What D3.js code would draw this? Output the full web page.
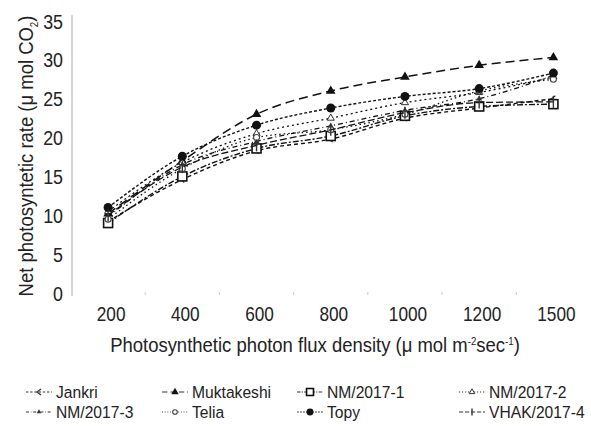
<!DOCTYPE html>
<html>
<head>
<meta charset="utf-8">
<script src="https://cdn.jsdelivr.net/npm/d3@7"></script>
<style>
  body { margin: 0; background: #fff; }
  text { font-family: "Liberation Sans", Arial, sans-serif; fill: #222; }
</style>
</head>
<body>
<svg id="chart" width="591" height="426"></svg>
<script>
// light levels on the x axis
var ppfd = ["200", "400", "600", "800", "1000", "1200", "1500"];
var yTicks = [0, 5, 10, 15, 20, 25, 30, 35];

// net photosynthetic rate per genotype
var jankri     = [9.2, 14.6, 18.3, 19.8, 22.5, 23.8, 25.0];
var muktakeshi = [10.2, 17.0, 23.0, 26.0, 27.8, 29.3, 30.3];
var nm1        = [9.0, 15.0, 18.6, 20.2, 22.8, 24.0, 24.3];
var nm2        = [10.5, 16.8, 20.5, 22.5, 24.5, 25.8, 27.8];
var nm3        = [9.8, 16.5, 19.5, 21.5, 23.5, 25.0, 28.0];
var telia      = [9.5, 16.0, 20.0, 21.0, 23.0, 26.0, 27.5];
var topy       = [11.0, 17.6, 21.6, 23.8, 25.3, 26.3, 28.3];
var vhak       = [10.0, 16.2, 19.0, 21.0, 23.2, 24.5, 24.6];

var seriesNames = ["Jankri", "Muktakeshi", "NM/2017-1", "NM/2017-2", "NM/2017-3", "Telia", "Topy", "VHAK/2017-4"];
var seriesValues = [jankri, muktakeshi, nm1, nm2, nm3, telia, topy, vhak];

// look of each series: dash, marker
var styles = {
  "Jankri":      {dash: "4,3",      marker: "chev",  w: 1.4},
  "Muktakeshi":  {dash: "9,5",      marker: "tri",   w: 1.5},
  "NM/2017-1":   {dash: "6,2,2,2",  marker: "sq",    w: 1.4},
  "NM/2017-2":   {dash: "2,3",      marker: "otri",  w: 1.3},
  "NM/2017-3":   {dash: "5,3,1,3",  marker: "stri",  w: 1.3},
  "Telia":       {dash: "1.5,3",    marker: "ocirc", w: 1.3},
  "Topy":        {dash: "3,2",      marker: "circ",  w: 1.4},
  "VHAK/2017-4": {dash: "7,3",      marker: "bar",   w: 1.3}
};

var svg = d3.select("#chart");

var x = d3.scaleBand().domain(ppfd).range([71, 590.5]);
var y = d3.scaleLinear().domain([0, 35]).range([293, 21]);
var cx = function(c) { return x(c) + x.bandwidth() / 2; };

// condensed-looking text: squeeze horizontally
function label(parent, px, py, sx, anchor, size) {
  return parent.append("text")
    .attr("transform", "translate(" + px + "," + py + ") scale(" + sx + ",1)")
    .attr("text-anchor", anchor)
    .style("font-size", size + "px");
}

// y axis line
svg.append("line")
  .attr("x1", 72).attr("x2", 72).attr("y1", 15).attr("y2", 296)
  .attr("stroke", "#bbb").attr("stroke-width", 1.2);

// y tick labels
yTicks.forEach(function(d) {
  label(svg, 63, y(d) + 7.5, 0.85, "end", 21).text(d);
});

// small tick marks between categories
svg.selectAll("line.xtick")
  .data(ppfd.slice(1)).enter().append("line")
  .attr("class", "xtick")
  .attr("x1", function(d) { return x(d); }).attr("x2", function(d) { return x(d); })
  .attr("y1", 292).attr("y2", 295)
  .attr("stroke", "#ccc");

// x tick labels
ppfd.forEach(function(d) {
  label(svg, cx(d) + 3, 321, 0.82, "middle", 21).text(d);
});

// axis titles
var xt = label(svg, 315, 352, 0.88, "middle", 21);
xt.append("tspan").text("Photosynthetic photon flux density (\u03bc mol m");
xt.append("tspan").attr("dy", -7).style("font-size", "11px").text("-2");
xt.append("tspan").attr("dy", 7).text("sec");
xt.append("tspan").attr("dy", -7).style("font-size", "11px").text("-1");
xt.append("tspan").attr("dy", 7).text(")");

var yt = svg.append("text")
  .attr("transform", "translate(33,156) rotate(-90) scale(0.88,1)")
  .attr("text-anchor", "middle")
  .style("font-size", "21px");
yt.append("tspan").text("Net photosyntetic rate (\u03bc mol CO");
yt.append("tspan").attr("dy", 5).style("font-size", "11px").text("2");
yt.append("tspan").attr("dy", -5).text(")");

// marker drawing
function drawMarker(g, type, px, py, s) {
  s = s || 1;
  if (type == "tri") {
    g.append("path").attr("d", d3.symbol().type(d3.symbolTriangle).size(40 * s)())
      .attr("transform", "translate(" + px + "," + py + ")").attr("fill", "#111");
  } else if (type == "stri") {
    g.append("path").attr("d", d3.symbol().type(d3.symbolTriangle).size(16 * s)())
      .attr("transform", "translate(" + px + "," + py + ")").attr("fill", "#333");
  } else if (type == "otri") {
    g.append("path").attr("d", d3.symbol().type(d3.symbolTriangle).size(22 * s)())
      .attr("transform", "translate(" + px + "," + py + ")").attr("fill", "#fff").attr("stroke", "#333").attr("stroke-width", 1);
  } else if (type == "sq") {
    var h = 4.5 * Math.sqrt(s);
    g.append("rect").attr("x", px - h).attr("y", py - h).attr("width", 2 * h).attr("height", 2 * h)
      .attr("fill", "#fff").attr("stroke", "#111").attr("stroke-width", 1.6);
  } else if (type == "circ") {
    g.append("circle").attr("cx", px).attr("cy", py).attr("r", 4.5 * Math.sqrt(s)).attr("fill", "#111");
  } else if (type == "ocirc") {
    g.append("circle").attr("cx", px).attr("cy", py).attr("r", 3 * Math.sqrt(s)).attr("fill", "#fff").attr("stroke", "#444").attr("stroke-width", 1.1);
  } else if (type == "chev") {
    g.append("path").attr("d", "M" + (px + 2) + "," + (py - 3) + "L" + (px - 2) + "," + py + "L" + (px + 2) + "," + (py + 3))
      .attr("fill", "none").attr("stroke", "#333").attr("stroke-width", 1.2);
  } else if (type == "bar") {
    g.append("line").attr("x1", px).attr("x2", px).attr("y1", py - 6 * s).attr("y2", py + 6 * s)
      .attr("stroke", "#333").attr("stroke-width", 1.4);
  }
}

var line = d3.line()
  .x(function(d, i) { return cx(ppfd[i]); })
  .y(function(d) { return y(d); })
  .curve(d3.curveMonotoneX);

// series lines + markers
seriesNames.forEach(function(name, k) {
  var st = styles[name];
  var g = svg.append("g");
  g.append("path")
    .datum(seriesValues[k])
    .attr("d", line)
    .attr("fill", "none")
    .attr("stroke", "#111")
    .attr("stroke-width", st.w)
    .attr("stroke-dasharray", st.dash);
  seriesValues[k].forEach(function(v, i) {
    drawMarker(g, st.marker, cx(ppfd[i]), y(v));
  });
});

// legend, 4 columns x 2 rows
var legX = [56, 192, 327, 489];
var legY = [392, 412];
seriesNames.forEach(function(name, k) {
  var st = styles[name];
  var tx = legX[k % 4], ty = legY[Math.floor(k / 4)];
  var g = svg.append("g");
  g.append("line")
    .attr("x1", tx - 30).attr("x2", tx - 4).attr("y1", ty).attr("y2", ty)
    .attr("stroke", "#333").attr("stroke-width", 1.2)
    .attr("stroke-dasharray", st.dash.split(",").map(function(d) { return d * 0.6; }).join(","));
  drawMarker(g, st.marker, tx - 17, ty, 0.6);
  label(g, tx, ty + 6, 0.92, "start", 17).text(name);
});
</script>
</body>
</html>
